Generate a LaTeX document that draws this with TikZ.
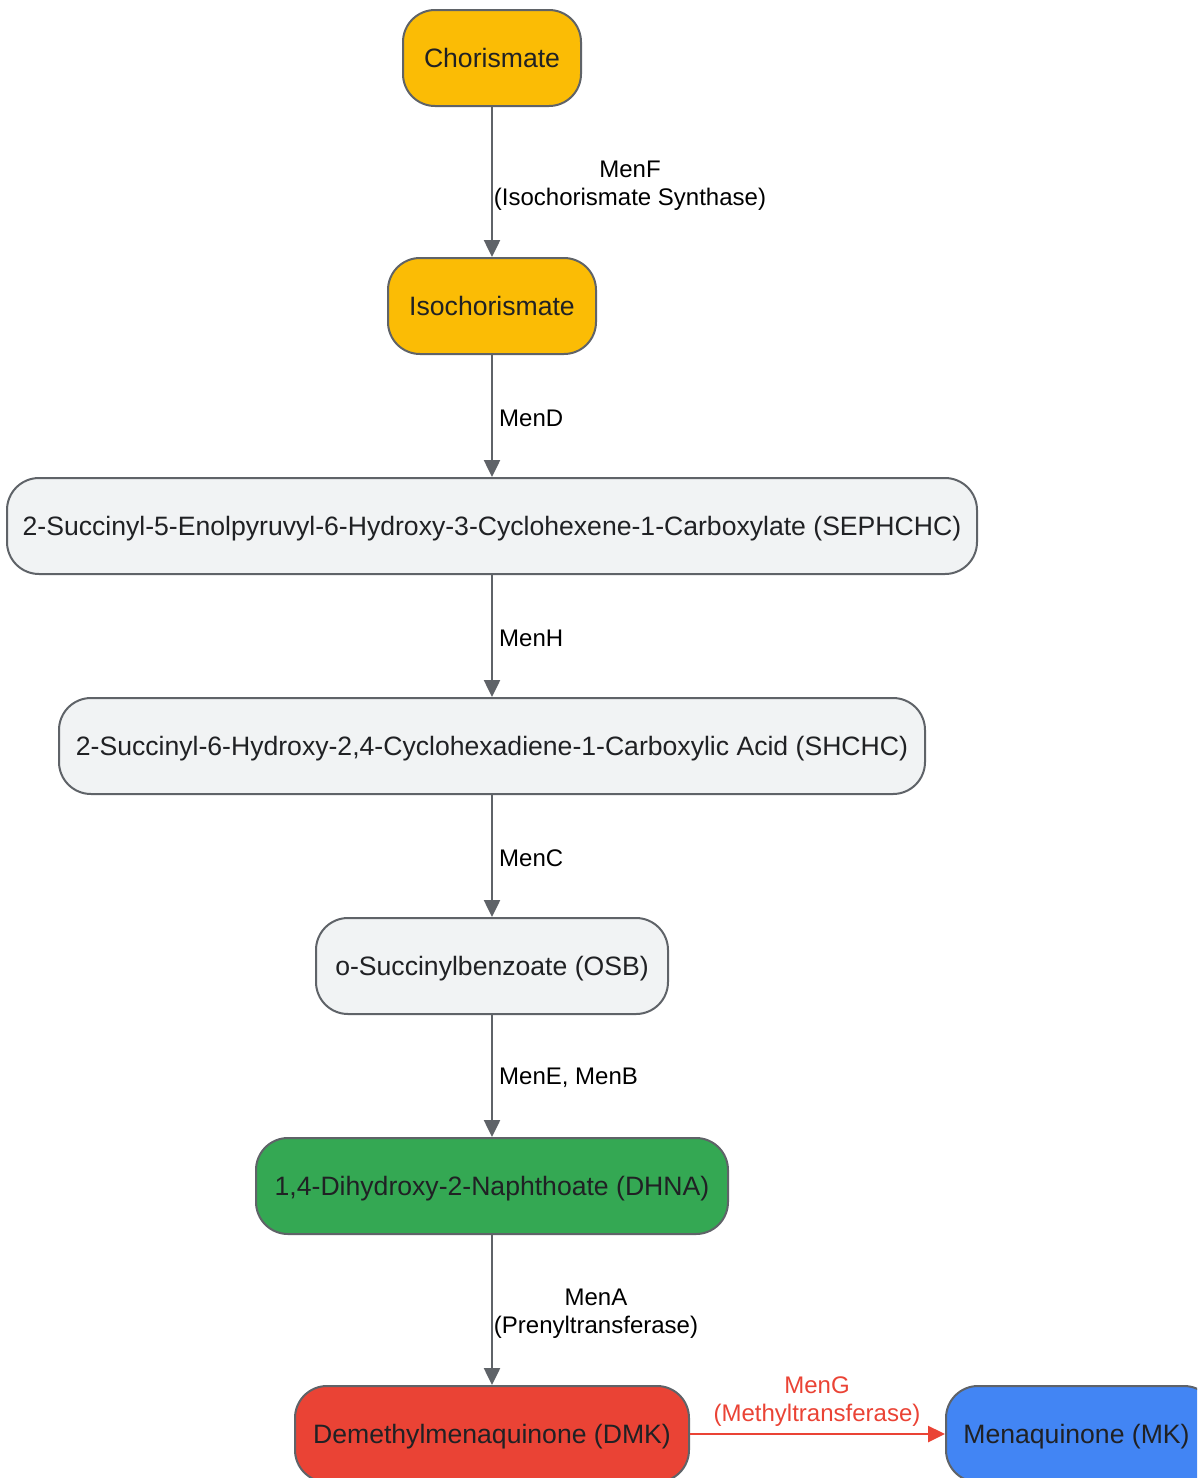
\documentclass[tikz,border=0pt]{standalone}
\usepackage{fontspec}
\setmainfont{Liberation Sans}
\usetikzlibrary{arrows.meta}
\definecolor{strokegray}{HTML}{5F6368}
\definecolor{txt}{HTML}{202124}
\definecolor{gyellow}{HTML}{FBBC05}
\definecolor{glight}{HTML}{F1F3F4}
\definecolor{ggreen}{HTML}{34A853}
\definecolor{gred}{HTML}{EA4335}
\definecolor{gblue}{HTML}{4285F4}
\tikzset{
  box/.style={draw=strokegray, line width=2pt, rounded corners=32pt, minimum height=96pt,
    inner sep=0pt, text=txt, text height=19.5pt, text depth=0pt, font=\fontsize{26.6}{30}\selectfont},
  flow/.style={draw=strokegray, line width=2.5pt, -{Triangle[length=17pt,width=16pt]}},
  redflow/.style={draw=gred, line width=2.5pt, -{Triangle[length=17pt,width=16pt]}},
  lbl/.style={text=black, font=\fontsize{24}{28}\selectfont, align=center, inner sep=0pt},
}
\begin{document}
\begin{tikzpicture}[x=1pt,y=-1pt]
\useasboundingbox (0,0) rectangle (1197,1478);
\clip (0,0) rectangle (1197,1478);
\node[box, fill=gyellow, minimum width=178pt] (cho) at (492,58) {Chorismate};
\node[box, fill=gyellow, minimum width=208pt] (iso) at (492,306) {Isochorismate};
\node[box, fill=glight, minimum width=970pt] (seph) at (492,526) {2-Succinyl-5-Enolpyruvyl-6-Hydroxy-3-Cyclohexene-1-Carboxylate (SEPHCHC)};
\node[box, fill=glight, minimum width=866pt] (shchc) at (492,746) {2-Succinyl-6-Hydroxy-2,4-Cyclohexadiene-1-Carboxylic Acid (SHCHC)};
\node[box, fill=glight, minimum width=352pt] (osb) at (492,966) {o-Succinylbenzoate (OSB)};
\node[box, fill=ggreen, minimum width=472pt] (dhna) at (492,1186) {1,4-Dihydroxy-2-Naphthoate (DHNA)};
\node[box, fill=gred, minimum width=394pt] (dmk) at (492,1434) {Demethylmenaquinone (DMK)};
\node[box, fill=gblue, minimum width=270pt, anchor=west] (mk) at (945,1434) {\hspace*{-9pt}Menaquinone (MK)};

\draw[flow] (cho) -- (iso);
\draw[flow] (iso) -- (seph);
\draw[flow] (seph) -- (shchc);
\draw[flow] (shchc) -- (osb);
\draw[flow] (osb) -- (dhna);
\draw[flow] (dhna) -- (dmk);
\draw[redflow] (dmk) -- (mk);

\node[lbl] (lf) at (630,186) {MenF\\(Isochorismate Synthase)};
\node[lbl, anchor=west] (ld) at (499,418) {MenD};
\node[lbl, anchor=west] (lh) at (499,638) {MenH};
\node[lbl, anchor=west] (lc) at (499,858) {MenC};
\node[lbl, anchor=west] (le) at (499,1078) {MenE, MenB};
\node[lbl] (la) at (596,1314) {MenA\\(Prenyltransferase)};
\node[lbl, text=gred] (lg) at (817,1402) {MenG\\(Methyltransferase)};
\end{tikzpicture}
\end{document}
